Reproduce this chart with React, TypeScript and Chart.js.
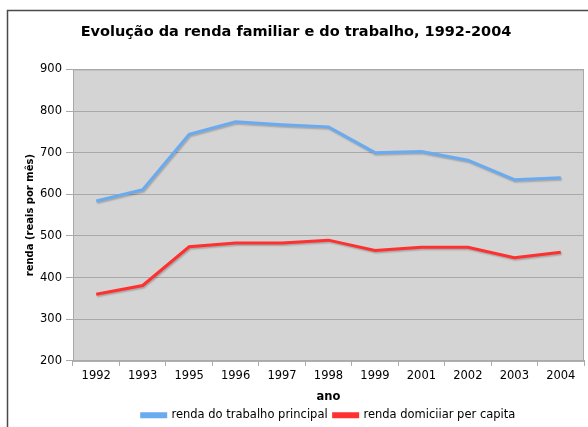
import React, { useEffect, useRef } from "react";
import { Chart, registerables } from "chart.js";

Chart.register(...registerables);

const years = ["1992", "1993", "1995", "1996", "1997", "1998", "1999", "2001", "2002", "2003", "2004"];
const rendaTrabalho = [584, 611, 744, 774, 767, 762, 700, 703, 682, 635, 640];
const rendaDomiciliar = [360, 381, 474, 483, 483, 490, 465, 473, 473, 448, 461];
const seriesNames = ["renda do trabalho principal", "renda domiciiar per capita"];
const titleText = "Evolução da renda familiar e do trabalho, 1992-2004";
const yTitle = "renda (reais por mês)";
const xTitle = "ano";

const FONT = "'DejaVu Sans', Verdana, sans-serif";

const framePlugin = {
  id: "frame",
  beforeDraw(chart: any) {
    const ctx = chart.ctx;
    ctx.save();
    ctx.fillStyle = "#ffffff";
    ctx.fillRect(0, 0, chart.width, chart.height);
    ctx.strokeStyle = "#4a4a4a";
    ctx.lineWidth = 1.5;
    ctx.strokeRect(7.5, 10.5, chart.width + 10, chart.height + 10);
    const a = chart.chartArea;
    ctx.fillStyle = "#d4d4d4";
    ctx.fillRect(a.left, a.top, a.right - a.left, a.bottom - a.top);
    ctx.restore();
  },
  afterDraw(chart: any) {
    const ctx = chart.ctx;
    const a = chart.chartArea;
    ctx.save();
    ctx.strokeStyle = "#a9a9a9";
    ctx.lineWidth = 1;
    ctx.strokeRect(a.left + 0.5, a.top + 0.5, a.right - a.left - 1, a.bottom - a.top);
    ctx.restore();
  },
  beforeDatasetDraw(chart: any) {
    const ctx = chart.ctx;
    ctx.shadowColor = "rgba(0,0,0,0.22)";
    ctx.shadowOffsetX = 1;
    ctx.shadowOffsetY = 1.5;
    ctx.shadowBlur = 1.5;
  },
  afterDatasetDraw(chart: any) {
    const ctx = chart.ctx;
    ctx.shadowColor = "rgba(0,0,0,0)";
    ctx.shadowOffsetX = 0;
    ctx.shadowOffsetY = 0;
    ctx.shadowBlur = 0;
  },
};

export default function App() {
  const ref = useRef<HTMLCanvasElement>(null);
  useEffect(() => {
    if (!ref.current) return;
    const chart = new Chart(ref.current, {
      type: "line",
      data: {
        labels: years,
        datasets: [
          {
            label: seriesNames[0],
            data: rendaTrabalho,
            borderColor: "#6aabf0",
            backgroundColor: "#6aabf0",
            borderWidth: 3,
            pointRadius: 0,
            tension: 0,
          },
          {
            label: seriesNames[1],
            data: rendaDomiciliar,
            borderColor: "#ff3030",
            backgroundColor: "#ff3030",
            borderWidth: 3,
            pointRadius: 0,
            tension: 0,
          },
        ],
      },
      options: {
        animation: false,
        responsive: false,
        devicePixelRatio: 1,
        layout: { padding: { top: 10, left: 8, right: 4, bottom: -4 } },
        plugins: {
          title: {
            display: true,
            text: titleText,
            color: "#000",
            font: { family: FONT, size: 14.5, weight: "bold" },
            padding: { top: 14, bottom: 28 },
          },
          legend: {
            position: "bottom",
            fullSize: false,
            labels: {
              color: "#000",
              font: { family: FONT, size: 11.5 },
              boxWidth: 24,
              boxHeight: 3,
              padding: 6,
            },
          },
          tooltip: { enabled: false },
        },
        scales: {
          x: {
            offset: true,
            grid: { offset: true, drawOnChartArea: false, color: "#a9a9a9", tickLength: 5 },
            border: { color: "#a9a9a9" },
            ticks: { color: "#000", font: { family: FONT, size: 11.5 }, padding: 3, maxRotation: 0, autoSkip: false },
            title: {
              display: true,
              text: xTitle,
              color: "#000",
              font: { family: FONT, size: 11.5, weight: "bold" },
              padding: { top: 4, bottom: 0 },
            },
          },
          y: {
            min: 200,
            max: 900,
            afterFit: (s: any) => {
              s.width = 65;
            },
            grid: { color: "#a9a9a9", tickLength: 7 },
            border: { color: "#a9a9a9" },
            ticks: { stepSize: 100, color: "#000", font: { family: FONT, size: 11.5 }, padding: 4 },
            title: {
              display: true,
              text: yTitle,
              color: "#000",
              font: { family: FONT, size: 10, weight: "bold" },
              padding: { top: 16, bottom: 0 },
            },
          },
        },
      },
      plugins: [framePlugin],
    });
    return () => chart.destroy();
  }, []);
  return (
    <div style={{ position: "fixed", left: 0, top: 0, width: 588, height: 427 }}>
      <canvas ref={ref} width={588} height={427} style={{ width: 588, height: 427 }} />
    </div>
  );
}
